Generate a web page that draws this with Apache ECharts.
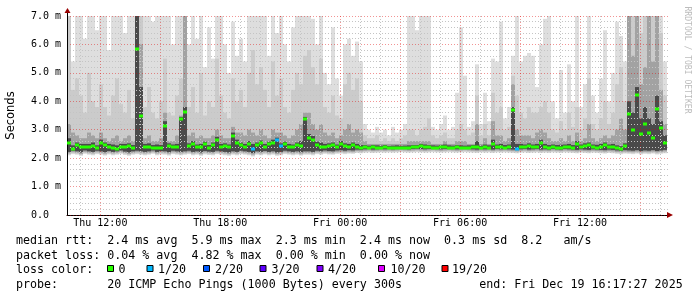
<!DOCTYPE html>
<html><head><meta charset="utf-8">
<script src="https://cdn.jsdelivr.net/npm/echarts@6/dist/echarts.min.js"></script>
<style>html,body{margin:0;padding:0;background:#fff;}#c{width:697px;height:297px;}</style>
</head><body><div id="c"></div>
<script>
// time: hours since Thu 00:00; columns of 12 minutes
const startHour = 10.3333;
const endHour = 40.4;
const stepHours = 0.2;

const smokeTop = [
7.2,5.4,7.2,7.2,6.2,7.2,7.2,6.5,7.2,7.2,
5.8,7.2,7.2,7.2,6.4,7.2,7.2,7.2,7.2,7.2,
7.2,6.8,7.2,7.2,7.2,7.2,6.0,7.2,7.2,7.2,
6.0,7.2,6.2,7.2,5.2,6.6,5.5,7.2,7.2,6.0,
5.0,6.8,5.6,6.2,5.4,7.2,7.2,7.2,7.2,7.2,
5.6,7.2,6.4,7.2,6.0,5.4,6.6,7.2,7.2,7.2,
7.2,6.9,6.0,7.2,5.0,4.6,6.6,4.8,4.2,6.0,
6.2,5.6,6.1,5.4,3.2,3.0,2.9,3.1,2.9,3.0,
2.8,3.1,2.9,3.0,3.2,7.2,7.2,6.5,7.2,7.2,
7.2,3.1,3.0,3.2,3.5,3.0,3.1,4.3,6.6,4.9,
3.1,3.3,5.3,3.2,4.3,3.3,5.5,5.4,6.8,3.4,
3.8,5.6,7.2,5.4,5.6,5.7,5.6,4.5,6.0,6.9,
7.2,4.0,3.4,5.1,3.6,5.3,4.0,7.2,3.8,4.6,
7.2,4.2,3.6,4.8,6.5,4.0,5.0,6.8,6.3,5.4,
7.2,7.2,7.2,7.2,7.2,7.2,7.2,7.2,7.2,5.4];

const smokeMid = [
7.2,4.4,4.8,4.2,3.6,5.0,4.0,3.8,4.6,3.8,
3.5,4.2,4.8,3.9,3.6,4.4,3.4,7.2,7.2,3.8,
4.5,3.6,3.4,4.0,5.5,3.6,3.5,4.2,4.8,7.2,
3.8,4.5,3.6,5.0,3.5,4.0,3.8,5.5,4.2,3.6,
3.4,4.8,4.0,4.4,3.8,5.0,5.8,4.6,5.2,4.4,
3.8,5.4,4.2,4.8,3.8,3.6,4.4,5.0,4.6,5.6,
5.8,5.2,4.6,5.5,3.8,3.6,4.2,3.5,3.4,4.6,
5.0,4.4,4.8,4.0,2.8,2.7,2.7,2.8,2.6,2.7,
2.6,2.7,2.6,2.7,2.8,3.0,3.0,2.8,3.0,3.1,
3.4,2.8,2.7,2.8,2.9,2.7,2.7,3.0,3.2,3.0,
2.8,2.9,4.2,2.8,3.2,2.8,4.3,3.6,3.8,3.0,
3.1,4.9,4.2,3.6,3.4,3.8,3.6,3.6,3.8,4.0,
3.6,3.0,2.9,3.3,3.0,3.6,3.1,3.8,3.0,3.4,
4.8,3.2,3.0,3.4,4.0,3.2,3.6,4.6,5.2,4.0,
6.8,7.2,7.2,6.4,7.2,6.6,7.2,7.2,6.4,4.2];

const smokeDark = [
3.2,2.9,2.8,2.7,2.7,2.9,2.8,2.7,2.9,2.7,
2.6,2.7,2.8,2.6,2.7,2.8,2.6,7.2,6.0,2.7,
2.8,2.6,2.6,2.7,3.6,2.6,2.6,2.8,3.5,7.2,
2.8,2.9,2.7,2.8,2.7,2.7,2.8,3.0,2.8,2.7,
2.7,3.1,2.9,2.9,2.8,3.0,2.9,2.8,3.0,2.8,
2.7,3.0,2.9,2.9,2.8,2.7,2.8,3.0,3.2,3.6,
3.6,3.2,3.0,3.2,2.9,2.8,2.9,2.7,2.8,3.0,
3.2,2.9,3.0,2.9,2.6,2.5,2.5,2.5,2.5,2.5,
2.5,2.5,2.5,2.5,2.5,2.6,2.6,2.6,2.6,2.6,
2.6,2.5,2.5,2.5,2.6,2.5,2.5,2.6,2.6,2.6,
2.5,2.5,3.2,2.5,2.7,2.5,3.3,2.8,2.8,2.6,
2.7,4.6,3.0,2.8,2.8,2.8,2.7,2.9,3.0,2.9,
2.7,2.6,2.6,2.7,2.6,2.8,2.6,2.9,2.6,2.7,
3.2,2.7,2.6,2.7,2.8,2.7,2.8,3.0,3.4,3.0,
7.2,5.6,7.2,4.6,5.2,7.2,5.4,7.2,4.4,3.2];

const smokeCore = [
2.7,2.45,2.55,2.5,2.5,2.5,2.55,2.45,2.65,2.55,
2.5,2.48,2.45,2.5,2.5,2.52,2.46,7.2,4.5,2.5,
2.52,2.46,2.48,2.46,3.3,2.52,2.48,2.5,3.45,3.8,
2.52,2.6,2.48,2.5,2.58,2.46,2.55,2.75,2.5,2.52,
2.48,2.9,2.65,2.55,2.5,2.6,2.5,2.55,2.62,2.5,
2.58,2.65,2.72,2.52,2.58,2.5,2.48,2.55,2.6,3.45,
2.85,2.78,2.58,2.55,2.5,2.52,2.55,2.48,2.6,2.52,
2.5,2.55,2.5,2.46,2.46,2.44,2.46,2.45,2.44,2.46,
2.43,2.44,2.45,2.43,2.44,2.45,2.46,2.46,2.5,2.48,
2.46,2.45,2.44,2.46,2.48,2.45,2.44,2.46,2.45,2.44,
2.45,2.46,2.6,2.44,2.48,2.45,2.65,2.48,2.5,2.46,
2.48,3.8,2.5,2.5,2.48,2.52,2.48,2.5,2.65,2.5,
2.46,2.48,2.46,2.47,2.48,2.5,2.46,2.6,2.48,2.52,
2.55,2.48,2.47,2.5,2.55,2.48,2.5,2.45,2.42,2.52,
4.0,3.6,4.5,3.4,3.8,3.4,3.2,4.2,3.3,2.8];

const smokeLo = [
2.10,2.14,2.12,2.08,2.15,2.12,2.10,2.14,2.12,2.09,
2.13,2.10,2.12,2.15,2.11,2.08,2.12,2.14,2.12,2.10,
2.12,2.15,2.10,2.13,2.12,2.09,2.14,2.12,2.10,2.12,
2.14,2.10,2.12,2.08,2.13,2.11,2.10,2.14,2.12,2.10,
2.08,2.12,2.10,2.14,2.12,2.10,2.06,2.12,2.10,2.13,
2.10,2.12,2.08,2.10,2.14,2.12,2.10,2.12,2.09,2.12,
2.12,2.10,2.14,2.12,2.15,2.13,2.12,2.15,2.16,2.14,
2.16,2.15,2.18,2.17,2.19,2.20,2.18,2.19,2.20,2.19,
2.20,2.19,2.20,2.21,2.20,2.19,2.20,2.21,2.20,2.19,
2.20,2.21,2.20,2.19,2.20,2.21,2.20,2.19,2.20,2.21,
2.20,2.19,2.18,2.20,2.19,2.20,2.18,2.20,2.19,2.20,
2.19,2.18,2.17,2.19,2.20,2.18,2.19,2.20,2.18,2.19,
2.18,2.20,2.19,2.18,2.20,2.19,2.18,2.17,2.19,2.18,
2.17,2.19,2.18,2.17,2.16,2.18,2.17,2.15,2.14,2.16,
2.15,2.14,2.16,2.13,2.15,2.14,2.16,2.13,2.15,2.17];

const medianRtt = [
2.54,2.32,2.45,2.38,2.40,2.38,2.42,2.35,2.55,2.45,
2.38,2.36,2.33,2.40,2.38,2.42,2.36,5.85,3.48,2.40,
2.40,2.35,2.37,2.36,3.12,2.43,2.38,2.40,3.39,3.62,
2.42,2.50,2.38,2.40,2.48,2.36,2.45,2.64,2.40,2.42,
2.38,2.78,2.55,2.45,2.40,2.50,2.33,2.45,2.52,2.40,
2.48,2.55,2.63,2.42,2.48,2.40,2.38,2.45,2.42,3.39,
2.72,2.65,2.45,2.40,2.38,2.42,2.45,2.38,2.50,2.42,
2.38,2.45,2.40,2.36,2.38,2.36,2.38,2.37,2.36,2.38,
2.35,2.36,2.37,2.35,2.36,2.37,2.38,2.38,2.42,2.40,
2.38,2.37,2.36,2.38,2.40,2.37,2.36,2.38,2.37,2.36,
2.37,2.38,2.40,2.36,2.38,2.37,2.51,2.38,2.40,2.37,
2.38,3.69,2.33,2.40,2.38,2.42,2.38,2.40,2.55,2.40,
2.36,2.38,2.36,2.37,2.38,2.40,2.36,2.50,2.38,2.42,
2.45,2.38,2.37,2.40,2.45,2.38,2.40,2.35,2.32,2.42,
3.54,2.98,4.21,2.85,3.20,2.90,2.70,3.72,3.05,2.55];

// packet loss (count of 20) for columns that lost packets
const lossCols = [46, 52, 53, 112];
const lossLevels = [1, 1, 1, 1];

const lossLabels = ['0','1/20','2/20','3/20','4/20','10/20','19/20'];
const lossColors = ['#26ff00','#00b8ff','#0059ff','#5e00ff','#7e00ff','#dd00ff','#ff0000'];

const xGridHours = [11,12,13,14,15,16,17,18,19,20,21,22,23,24,25,26,27,28,29,30,31,32,33,34,35,36,37,38,39,40];
const xMajorHours = [12,15,18,21,24,27,30,33,36,39];
const xLabelHours = [12,18,24,30,36];

const MONO = '"DejaVu Sans Mono", monospace';

const chart = echarts.init(document.getElementById('c'), null, {renderer:'canvas'});

function clipTo(cs, r) {
  return echarts.graphic.clipRectByRect(r, {x:cs.x, y:cs.y, width:cs.width, height:cs.height});
}

function band(topArr, bottomOffset, color) {
  return {
    type:'custom', z:1, silent:true, animation:false,
    data: topArr.map((v,i)=>[startHour + i*stepHours, smokeLo[i] + bottomOffset, v]),
    encode:{x:0, y:[1,2]},
    renderItem(params, api) {
      const t = api.value(0);
      const a = api.coord([t, api.value(2)]);
      const b = api.coord([t + stepHours, api.value(1)]);
      const x0 = Math.round(a[0]), x1 = Math.round(b[0]);
      const r = clipTo(params.coordSys, {x:x0, y:a[1], width:x1-x0, height:b[1]-a[1]});
      if (!r) return null;
      return {type:'rect', shape:r, style:{fill:color}};
    }
  };
}

const lossOf = medianRtt.map((_,i)=>{ const k = lossCols.indexOf(i); return k>=0 ? lossLevels[k] : 0; });

const option = {
  animation:false,
  backgroundColor:'#ffffff',
  grid:{left:67, right:29, top:16, bottom:82, containLabel:false},
  xAxis:{
    type:'value', min:startHour, max:endHour,
    axisLine:{show:true, lineStyle:{color:'#000', width:1}},
    axisTick:{show:false},
    splitLine:{show:false},
    axisLabel:{
      customValues: xLabelHours,
      margin:3, color:'#000', fontFamily:MONO, fontSize:10,
      formatter:(v)=>{ const d = v < 24 ? 'Thu ' : 'Fri '; const h = Math.round(v) % 24; return d + (h<10?'0':'') + h + ':00'; }
    }
  },
  yAxis:{
    type:'value', min:0, max:7, interval:1, z:3,
    axisLine:{show:true, lineStyle:{color:'#000', width:1}},
    axisTick:{show:false},
    splitLine:{show:true, lineStyle:{color:'rgba(225,0,0,0.42)', type:[1,2], width:1}},
    minorTick:{show:false, splitNumber:5},
    minorSplitLine:{show:true, lineStyle:{color:'#c4c4c4', type:[1,2], width:1}},
    axisLabel:{
      margin:6, color:'#000', fontFamily:MONO, fontSize:10,
      formatter:(v)=> v === 0 ? '0.0  ' : v.toFixed(1) + ' m'
    }
  },
  series:[
    band(smokeTop, 0.0, '#dedede'),
    band(smokeMid, 0.03, '#cbcbcb'),
    band(smokeDark, 0.07, '#a2a2a2'),
    band(smokeCore, 0.12, '#4a4a4a'),
    {
      type:'custom', z:3, silent:true,
      data: xGridHours.map(h=>[h, 0]),
      encode:{x:0, y:1},
      renderItem(params, api) {
        const h = api.value(0);
        const p0 = api.coord([h, 0]), p1 = api.coord([h, 7]);
        const x = Math.round(p0[0]) + 0.5;
        const major = xMajorHours.indexOf(h) >= 0;
        return {type:'line', shape:{x1:x, y1:p0[1], x2:x, y2:p1[1]},
          style:{stroke: major ? 'rgba(225,0,0,0.42)' : '#c4c4c4', lineWidth:1, lineDash:[1,2]}};
      }
    },
    {
      type:'custom', z:10, silent:true,
      data: medianRtt.map((v,i)=>[startHour + i*stepHours, v, lossOf[i]]),
      encode:{x:0, y:1},
      renderItem(params, api) {
        const t = api.value(0), v = api.value(1), l = api.value(2);
        const a = api.coord([t, v]), b = api.coord([t + stepHours, v]);
        const x0 = Math.round(a[0]), x1 = Math.round(b[0]);
        const yc = Math.round(a[1]);
        const r = clipTo(params.coordSys, {x:x0, y:yc-1.5, width:x1-x0, height:3});
        if (!r) return null;
        const ci = l === 0 ? 0 : (l === 1 ? 1 : (l === 2 ? 2 : (l === 3 ? 3 : (l <= 4 ? 4 : (l <= 10 ? 5 : 6)))));
        return {type:'rect', shape:r, style:{fill: lossColors[ci]}};
      }
    }
  ]
};
chart.setOption(option);

// decorations: arrows, titles, legend text
const pEnd = chart.convertToPixel({gridIndex:0}, [endHour, 0]);
const pTop = chart.convertToPixel({gridIndex:0}, [startHour, 7]);
const ax = Math.round(pTop[0]) + 0.5;
const graphics = [
  {type:'line', shape:{x1:ax, y1:pTop[1], x2:ax, y2:pTop[1]-4}, style:{stroke:'#000', lineWidth:1}, z:20},
  {type:'polygon', shape:{points:[[ax-3, pTop[1]-3],[ax+3, pTop[1]-3],[ax, pTop[1]-8]]}, style:{fill:'#990000'}, z:21},
  {type:'polygon', shape:{points:[[pEnd[0]-1, pEnd[1]-3],[pEnd[0]-1, pEnd[1]+3],[pEnd[0]+5, pEnd[1]]]}, style:{fill:'#990000'}, z:21},
  {type:'text', x:11, y:115.5, rotation:Math.PI/2, style:{text:'Seconds', fill:'#000', fontFamily:'"DejaVu Sans", sans-serif', fontSize:11.5, textAlign:'center', textVerticalAlign:'middle'}},
  {type:'text', x:687, y:60, rotation:-Math.PI/2, style:{text:'RRDTOOL / TOBI OETIKER', fill:'#bcbcbc', fontFamily:MONO, fontSize:8.1, textAlign:'center', textVerticalAlign:'middle'}}
];
const legendLines = [
  'median rtt:  2.4 ms avg  5.9 ms max  2.3 ms min  2.4 ms now  0.3 ms sd  8.2   am/s',
  'packet loss: 0.04 % avg  4.82 % max  0.00 % min  0.00 % now',
  'loss color:',
  'probe:       20 ICMP Echo Pings (1000 Bytes) every 300s           end: Fri Dec 19 16:17:27 2025'
];
const lineY = [241, 255.5, 270, 284.5];
legendLines.forEach((s,i)=>{
  graphics.push({type:'text', x:16, y:lineY[i], style:{text:s, fill:'#000', fontFamily:MONO, fontSize:11.66, textAlign:'left', textVerticalAlign:'middle'}});
});
const boxX = [107, 146.5, 203, 259.5, 316.5, 378, 441.5];
const labX = [118.5, 158, 215, 271.5, 328, 390.5, 452];
lossLabels.forEach((lab,i)=>{
  graphics.push({type:'rect', shape:{x:boxX[i]+0.5, y:265.5, width:6, height:6}, style:{fill:lossColors[i], stroke:'#000', lineWidth:1}});
  graphics.push({type:'text', x:labX[i], y:lineY[2], style:{text:lab, fill:'#000', fontFamily:MONO, fontSize:11.66, textAlign:'left', textVerticalAlign:'middle'}});
});
chart.setOption({graphic:graphics});
</script></body></html>
